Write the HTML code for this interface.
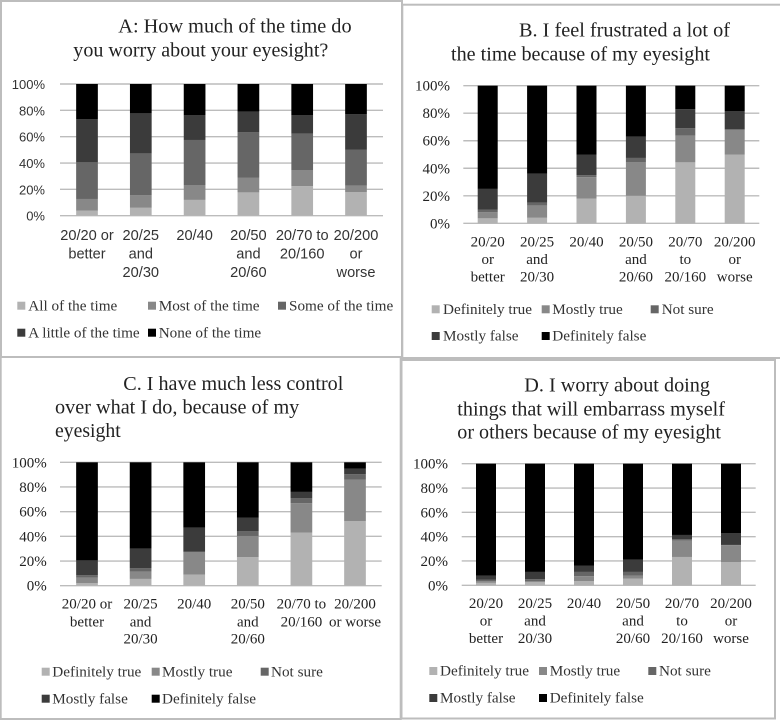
<!DOCTYPE html>
<html lang="en">
<head>
<meta charset="utf-8">
<title>Eyesight worry charts</title>
<style>
html,body{margin:0;padding:0;background:#fff;}
#stage{display:block;width:780px;height:720px;filter:blur(0.35px);}
.title{font-family:"Liberation Serif",serif;font-size:20.2px;fill:#222;}
.tick-sans{font-family:"Liberation Sans",sans-serif;font-size:13px;fill:#333;}
.tick-serif{font-family:"Liberation Serif",serif;font-size:15px;fill:#222;}
.legend{font-family:"Liberation Serif",serif;font-size:15.2px;fill:#333;}
</style>
</head>
<body>
<svg id="stage" xmlns="http://www.w3.org/2000/svg" width="780" height="720" viewBox="0 0 780 720"></svg>
<script>
// ---- Shared tick labels ----
const tickValues = [0, 20, 40, 60, 80, 100];

// ---- Panel A data (segment sizes, percent) ----
const catsA = ["20/20 or|better", "20/25|and|20/30", "20/40", "20/50|and|20/60", "20/70 to|20/160", "20/200|or|worse"];
const legendA = ["All of the time", "Most of the time", "Some of the time", "A little of the time", "None of the time"];
const a1 = [3.8, 6, 12, 17.7, 22.5, 18];
const a2 = [8.9, 9.7, 11.3, 11.3, 12.2, 4.8];
const a3 = [27.8, 31.6, 34.2, 34.3, 27.6, 27.2];
const a4 = [32.9, 30.4, 18.7, 15.7, 13.9, 27.2];
const a5 = [26.6, 22.3, 23.8, 21, 23.8, 22.8];

// ---- Panel B data ----
const catsB = ["20/20|or|better", "20/25|and|20/30", "20/40", "20/50|and|20/60", "20/70|to|20/160", "20/200|or|worse"];
const legendB = ["Definitely true", "Mostly true", "Not sure", "Mostly false", "Definitely false"];
const b1 = [3.6, 4, 18, 20, 44.3, 50];
const b2 = [4.4, 9, 15.5, 24.3, 19.4, 18];
const b3 = [2, 2, 1.5, 3.2, 5.5, 0.2];
const b4 = [15, 21, 15, 15.5, 13.8, 13.4];
const b5 = [75, 64, 50, 37, 17, 18.4];

// ---- Panel C data ----
const catsC = ["20/20 or|better", "20/25|and|20/30", "20/40", "20/50|and|20/60", "20/70 to|20/160", "20/200|or worse"];
const legendC = ["Definitely true", "Mostly true", "Not sure", "Mostly false", "Definitely false"];
const c1 = [2, 5.5, 9, 23.2, 43, 52.4];
const c2 = [4.5, 5.9, 18.3, 17.1, 23.8, 33.6];
const c3 = [2.1, 2.9, 0.2, 4, 4, 4.3];
const c4 = [11.9, 15.7, 19.5, 10.7, 5.2, 4.7];
const c5 = [79.5, 70, 53, 45, 24, 5];

// ---- Panel D data ----
const catsD = ["20/20|or|better", "20/25|and|20/30", "20/40", "20/50|and|20/60", "20/70|to|20/160", "20/200|or|worse"];
const legendD = ["Definitely true", "Mostly true", "Not sure", "Mostly false", "Definitely false"];
const d1 = [2, 2.5, 3.5, 5.5, 23.3, 19];
const d2 = [1.5, 1, 4, 2.5, 13.4, 14];
const d3 = [1, 1.5, 3.5, 3, 1.1, 0.2];
const d4 = [3.5, 6, 5, 10, 3.6, 9.8];
const d5 = [92, 89, 84, 79, 58.6, 57];

// ---- Titles ----
const titleA = ["A: How much of the time do", "you worry about your eyesight?"];
const titleB = ["B. I feel frustrated a lot of", "the time because of my eyesight"];
const titleC = ["C. I have much less control", "over what I do, because of my", "eyesight"];
const titleD = ["D. I worry about doing", "things that will embarrass myself", "or others because of my eyesight"];

// ---- Appearance and layout (not data) ----
const fills = ["#b2b2b2", "#888888", "#666666", "#3b3b3b", "#000000"];
const panels = [
  {id:"a", frame:[1,1,401,356.5], title:titleA, titleX:[118.3,73.3], titleY:[32.7,56.7], titleW:[233.3,255],
   series:[a1,a2,a3,a4,a5], cats:catsA, legend:legendA,
   x0:60, x1:383, y100:84, y0:215.7, start:87, step:53.8, bw:21.7,
   tickX:45, tickClass:"tick-sans", catClass:"tick-sans", catFont:14.6, catY:[240,258.6,277.2],
   swX:[17.3,148,278], txX:[28.3,158.7,289], rowY:[305.7,332.7]},
  {id:"b", frame:[402.3,4.7,775.4,353.3], title:titleB, titleX:[519,451], titleY:[36.7,60.7], titleW:[211,259],
   series:[b1,b2,b3,b4,b5], cats:catsB, legend:legendB,
   x0:463.3, x1:759.3, y100:85.7, y0:223.3, start:487.7, step:49.4, bw:20,
   tickX:450, tickClass:"tick-serif", catClass:"tick-serif", catFont:15, catY:[246.4,264,281.4],
   swX:[431.7,541.7,650.7], txX:[443,552.3,661.7], rowY:[309.3,336]},
  {id:"c", frame:[0.7,357,400,362], title:titleC, titleX:[123.3,55,55], titleY:[390,413.7,437], titleW:[220,244.3,65.7],
   series:[c1,c2,c3,c4,c5], cats:catsC, legend:legendC,
   x0:60, x1:381.7, y100:462.3, y0:585.7, start:87, step:53.6, bw:21.7,
   tickX:46.7, tickClass:"tick-serif", catClass:"tick-serif", catFont:15, catY:[608.7,626.4,643.7],
   swX:[41.7,151.7,260.7], txX:[52.3,162,271], rowY:[671.7,698.7]},
  {id:"d", frame:[401.5,360,373.5,358.5], title:titleD, titleX:[524.3,457.3,457.3], titleY:[391.7,415.3,438.3], titleW:[185.7,267.7,263.7],
   series:[d1,d2,d3,d4,d5], cats:catsD, legend:legendD,
   x0:461.7, x1:755.7, y100:463.7, y0:585.3, start:486, step:49, bw:20,
   tickX:448, tickClass:"tick-serif", catClass:"tick-serif", catFont:15, catY:[608,625.7,643],
   swX:[429.3,539,648.3], txX:[440,549.7,659], rowY:[671,698]}
];

const NS = "http://www.w3.org/2000/svg";
const stage = document.getElementById("stage");

function make(tag, parent, attrs, text) {
  const el = document.createElementNS(NS, tag);
  for (const k in attrs) el.setAttribute(k, attrs[k]);
  if (text !== undefined) el.textContent = text;
  parent.appendChild(el);
  return el;
}

panels.forEach(function (p) {
  const yScale = function (v) { return p.y0 - (v / 100) * (p.y0 - p.y100); };
  const xScale = function (i) { return p.start + i * p.step; };

  const g = make("g", stage, {});
  
  

  const frame = make("rect", g, {x:p.frame[0], y:p.frame[1], width:p.frame[2], height:p.frame[3], fill:"#fff", stroke:"#bdbdbd", "stroke-width":2});
  
  

  p.title.forEach(function (line, i) {
    const t = make("text", g, {class:"title", x:p.titleX[i], y:p.titleY[i], textLength:p.titleW[i], lengthAdjust:"spacingAndGlyphs"}, line);
    
    
  });

  tickValues.forEach(function (v) {
    const gl = make("line", g, {x1:p.x0, x2:p.x1, y1:yScale(v), y2:yScale(v), stroke:"#bcbcbc", "stroke-width":1.4});
    
    
    const tl = make("text", g, {class:p.tickClass, x:p.tickX, y:yScale(v) + 5, "text-anchor":"end"}, v + "%");
    
    
  });

  p.cats.forEach(function (cat, i) {
    let cum = 0;
    p.series.forEach(function (vals, s) {
      const top = yScale(cum + vals[i]);
      const bottom = yScale(cum);
      const bar = make("rect", g, {x:xScale(i) - p.bw / 2, y:top, width:p.bw, height:bottom - top, fill:fills[s]});
      
      
      cum += vals[i];
    });
    cat.split("|").forEach(function (line, k) {
      const lab = make("text", g, {class:p.catClass, x:xScale(i), y:p.catY[k], "text-anchor":"middle", style:"font-size:" + p.catFont + "px"}, line);
      
      
    });
  });

  p.legend.forEach(function (name, s) {
    const col = s < 3 ? s : s - 3;
    const row = s < 3 ? 0 : 1;
    const sw = make("rect", g, {x:p.swX[col], y:p.rowY[row] - 4, width:8, height:8, fill:fills[s]});
    
    
    const lt = make("text", g, {class:"legend", x:p.txX[col], y:p.rowY[row] + 4.6}, name);
    
    
  });
});
</script>
</body>
</html>
